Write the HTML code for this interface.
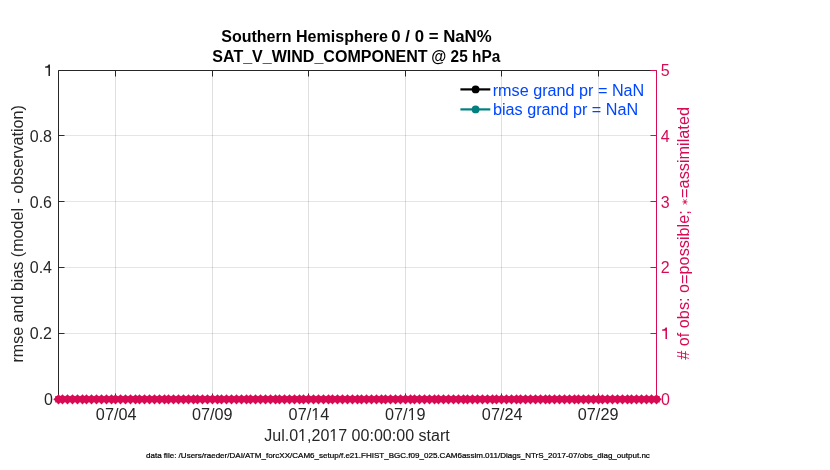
<!DOCTYPE html>
<html><head><meta charset="utf-8"><title>Southern Hemisphere SAT_V_WIND_COMPONENT @ 25 hPa</title>
<style>html,body{margin:0;padding:0;background:#fff;width:830px;height:470px;overflow:hidden;font-family:"Liberation Sans",sans-serif;}</style>
</head><body>
<svg width="830" height="470" viewBox="0 0 830 470" style="display:block;will-change:transform">
<rect x="0" y="0" width="830" height="470" fill="#fff"/>
<path d="M58.5 399.5V70.5H656.5" fill="none" stroke="#262626"/>
<line x1="58.5" y1="399.5" x2="656.5" y2="399.5" stroke="#262626"/>
<line x1="656.5" y1="70.5" x2="656.5" y2="399.5" stroke="#D70A53"/>
<line x1="115.5" y1="70.5" x2="115.5" y2="76.5" stroke="#262626"/>
<line x1="115.5" y1="399.5" x2="115.5" y2="393.5" stroke="#262626"/>
<line x1="212.5" y1="70.5" x2="212.5" y2="76.5" stroke="#262626"/>
<line x1="212.5" y1="399.5" x2="212.5" y2="393.5" stroke="#262626"/>
<line x1="308.5" y1="70.5" x2="308.5" y2="76.5" stroke="#262626"/>
<line x1="308.5" y1="399.5" x2="308.5" y2="393.5" stroke="#262626"/>
<line x1="405.5" y1="70.5" x2="405.5" y2="76.5" stroke="#262626"/>
<line x1="405.5" y1="399.5" x2="405.5" y2="393.5" stroke="#262626"/>
<line x1="501.5" y1="70.5" x2="501.5" y2="76.5" stroke="#262626"/>
<line x1="501.5" y1="399.5" x2="501.5" y2="393.5" stroke="#262626"/>
<line x1="598.5" y1="70.5" x2="598.5" y2="76.5" stroke="#262626"/>
<line x1="598.5" y1="399.5" x2="598.5" y2="393.5" stroke="#262626"/>
<line x1="58.5" y1="399.5" x2="64.5" y2="399.5" stroke="#262626"/>
<line x1="656.5" y1="399.5" x2="650.5" y2="399.5" stroke="#D70A53"/>
<line x1="58.5" y1="333.5" x2="64.5" y2="333.5" stroke="#262626"/>
<line x1="656.5" y1="333.5" x2="650.5" y2="333.5" stroke="#D70A53"/>
<line x1="58.5" y1="267.5" x2="64.5" y2="267.5" stroke="#262626"/>
<line x1="656.5" y1="267.5" x2="650.5" y2="267.5" stroke="#D70A53"/>
<line x1="58.5" y1="201.5" x2="64.5" y2="201.5" stroke="#262626"/>
<line x1="656.5" y1="201.5" x2="650.5" y2="201.5" stroke="#D70A53"/>
<line x1="58.5" y1="135.5" x2="64.5" y2="135.5" stroke="#262626"/>
<line x1="656.5" y1="135.5" x2="650.5" y2="135.5" stroke="#D70A53"/>
<line x1="58.5" y1="70.5" x2="64.5" y2="70.5" stroke="#262626"/>
<line x1="656.5" y1="70.5" x2="650.5" y2="70.5" stroke="#D70A53"/>
<line x1="115.5" y1="71.0" x2="115.5" y2="399.0" stroke="#262626" stroke-opacity="0.15"/>
<line x1="212.5" y1="71.0" x2="212.5" y2="399.0" stroke="#262626" stroke-opacity="0.15"/>
<line x1="308.5" y1="71.0" x2="308.5" y2="399.0" stroke="#262626" stroke-opacity="0.15"/>
<line x1="405.5" y1="71.0" x2="405.5" y2="399.0" stroke="#262626" stroke-opacity="0.15"/>
<line x1="501.5" y1="71.0" x2="501.5" y2="399.0" stroke="#262626" stroke-opacity="0.15"/>
<line x1="598.5" y1="71.0" x2="598.5" y2="399.0" stroke="#262626" stroke-opacity="0.15"/>
<line x1="59.0" y1="333.5" x2="656.0" y2="333.5" stroke="#D70A53" stroke-opacity="0.15"/>
<line x1="59.0" y1="267.5" x2="656.0" y2="267.5" stroke="#D70A53" stroke-opacity="0.15"/>
<line x1="59.0" y1="201.5" x2="656.0" y2="201.5" stroke="#D70A53" stroke-opacity="0.15"/>
<line x1="59.0" y1="135.5" x2="656.0" y2="135.5" stroke="#D70A53" stroke-opacity="0.15"/>
<path d="M54.75 399.35a3.75 3.75 0 1 0 7.5 0a3.75 3.75 0 1 0 -7.5 0ZM60.70 396.55L58.50 394.15L56.30 396.55ZM56.30 402.15L58.50 404.55L60.70 402.15ZM61.30 401.55L63.70 399.35L61.30 397.15ZM55.70 397.15L53.30 399.35L55.70 401.55ZM61.72 398.61L61.75 396.10L59.24 396.13ZM57.76 396.13L55.25 396.10L55.28 398.61ZM55.28 400.09L55.25 402.60L57.76 402.57ZM59.24 402.57L61.75 402.60L61.72 400.09ZM58.75 399.35a3.75 3.75 0 1 0 7.5 0a3.75 3.75 0 1 0 -7.5 0ZM64.70 396.55L62.50 394.15L60.30 396.55ZM60.30 402.15L62.50 404.55L64.70 402.15ZM63.75 399.35a3.75 3.75 0 1 0 7.5 0a3.75 3.75 0 1 0 -7.5 0ZM69.70 396.55L67.50 394.15L65.30 396.55ZM65.30 402.15L67.50 404.55L69.70 402.15ZM68.75 399.35a3.75 3.75 0 1 0 7.5 0a3.75 3.75 0 1 0 -7.5 0ZM74.70 396.55L72.50 394.15L70.30 396.55ZM70.30 402.15L72.50 404.55L74.70 402.15ZM73.75 399.35a3.75 3.75 0 1 0 7.5 0a3.75 3.75 0 1 0 -7.5 0ZM79.70 396.55L77.50 394.15L75.30 396.55ZM75.30 402.15L77.50 404.55L79.70 402.15ZM78.75 399.35a3.75 3.75 0 1 0 7.5 0a3.75 3.75 0 1 0 -7.5 0ZM84.70 396.55L82.50 394.15L80.30 396.55ZM80.30 402.15L82.50 404.55L84.70 402.15ZM82.75 399.35a3.75 3.75 0 1 0 7.5 0a3.75 3.75 0 1 0 -7.5 0ZM88.70 396.55L86.50 394.15L84.30 396.55ZM84.30 402.15L86.50 404.55L88.70 402.15ZM87.75 399.35a3.75 3.75 0 1 0 7.5 0a3.75 3.75 0 1 0 -7.5 0ZM93.70 396.55L91.50 394.15L89.30 396.55ZM89.30 402.15L91.50 404.55L93.70 402.15ZM92.75 399.35a3.75 3.75 0 1 0 7.5 0a3.75 3.75 0 1 0 -7.5 0ZM98.70 396.55L96.50 394.15L94.30 396.55ZM94.30 402.15L96.50 404.55L98.70 402.15ZM97.75 399.35a3.75 3.75 0 1 0 7.5 0a3.75 3.75 0 1 0 -7.5 0ZM103.70 396.55L101.50 394.15L99.30 396.55ZM99.30 402.15L101.50 404.55L103.70 402.15ZM102.75 399.35a3.75 3.75 0 1 0 7.5 0a3.75 3.75 0 1 0 -7.5 0ZM108.70 396.55L106.50 394.15L104.30 396.55ZM104.30 402.15L106.50 404.55L108.70 402.15ZM107.75 399.35a3.75 3.75 0 1 0 7.5 0a3.75 3.75 0 1 0 -7.5 0ZM113.70 396.55L111.50 394.15L109.30 396.55ZM109.30 402.15L111.50 404.55L113.70 402.15ZM111.75 399.35a3.75 3.75 0 1 0 7.5 0a3.75 3.75 0 1 0 -7.5 0ZM117.70 396.55L115.50 394.15L113.30 396.55ZM113.30 402.15L115.50 404.55L117.70 402.15ZM116.75 399.35a3.75 3.75 0 1 0 7.5 0a3.75 3.75 0 1 0 -7.5 0ZM122.70 396.55L120.50 394.15L118.30 396.55ZM118.30 402.15L120.50 404.55L122.70 402.15ZM121.75 399.35a3.75 3.75 0 1 0 7.5 0a3.75 3.75 0 1 0 -7.5 0ZM127.70 396.55L125.50 394.15L123.30 396.55ZM123.30 402.15L125.50 404.55L127.70 402.15ZM126.75 399.35a3.75 3.75 0 1 0 7.5 0a3.75 3.75 0 1 0 -7.5 0ZM132.70 396.55L130.50 394.15L128.30 396.55ZM128.30 402.15L130.50 404.55L132.70 402.15ZM131.75 399.35a3.75 3.75 0 1 0 7.5 0a3.75 3.75 0 1 0 -7.5 0ZM137.70 396.55L135.50 394.15L133.30 396.55ZM133.30 402.15L135.50 404.55L137.70 402.15ZM135.75 399.35a3.75 3.75 0 1 0 7.5 0a3.75 3.75 0 1 0 -7.5 0ZM141.70 396.55L139.50 394.15L137.30 396.55ZM137.30 402.15L139.50 404.55L141.70 402.15ZM140.75 399.35a3.75 3.75 0 1 0 7.5 0a3.75 3.75 0 1 0 -7.5 0ZM146.70 396.55L144.50 394.15L142.30 396.55ZM142.30 402.15L144.50 404.55L146.70 402.15ZM145.75 399.35a3.75 3.75 0 1 0 7.5 0a3.75 3.75 0 1 0 -7.5 0ZM151.70 396.55L149.50 394.15L147.30 396.55ZM147.30 402.15L149.50 404.55L151.70 402.15ZM150.75 399.35a3.75 3.75 0 1 0 7.5 0a3.75 3.75 0 1 0 -7.5 0ZM156.70 396.55L154.50 394.15L152.30 396.55ZM152.30 402.15L154.50 404.55L156.70 402.15ZM155.75 399.35a3.75 3.75 0 1 0 7.5 0a3.75 3.75 0 1 0 -7.5 0ZM161.70 396.55L159.50 394.15L157.30 396.55ZM157.30 402.15L159.50 404.55L161.70 402.15ZM160.75 399.35a3.75 3.75 0 1 0 7.5 0a3.75 3.75 0 1 0 -7.5 0ZM166.70 396.55L164.50 394.15L162.30 396.55ZM162.30 402.15L164.50 404.55L166.70 402.15ZM164.75 399.35a3.75 3.75 0 1 0 7.5 0a3.75 3.75 0 1 0 -7.5 0ZM170.70 396.55L168.50 394.15L166.30 396.55ZM166.30 402.15L168.50 404.55L170.70 402.15ZM169.75 399.35a3.75 3.75 0 1 0 7.5 0a3.75 3.75 0 1 0 -7.5 0ZM175.70 396.55L173.50 394.15L171.30 396.55ZM171.30 402.15L173.50 404.55L175.70 402.15ZM174.75 399.35a3.75 3.75 0 1 0 7.5 0a3.75 3.75 0 1 0 -7.5 0ZM180.70 396.55L178.50 394.15L176.30 396.55ZM176.30 402.15L178.50 404.55L180.70 402.15ZM179.75 399.35a3.75 3.75 0 1 0 7.5 0a3.75 3.75 0 1 0 -7.5 0ZM185.70 396.55L183.50 394.15L181.30 396.55ZM181.30 402.15L183.50 404.55L185.70 402.15ZM184.75 399.35a3.75 3.75 0 1 0 7.5 0a3.75 3.75 0 1 0 -7.5 0ZM190.70 396.55L188.50 394.15L186.30 396.55ZM186.30 402.15L188.50 404.55L190.70 402.15ZM189.75 399.35a3.75 3.75 0 1 0 7.5 0a3.75 3.75 0 1 0 -7.5 0ZM195.70 396.55L193.50 394.15L191.30 396.55ZM191.30 402.15L193.50 404.55L195.70 402.15ZM193.75 399.35a3.75 3.75 0 1 0 7.5 0a3.75 3.75 0 1 0 -7.5 0ZM199.70 396.55L197.50 394.15L195.30 396.55ZM195.30 402.15L197.50 404.55L199.70 402.15ZM198.75 399.35a3.75 3.75 0 1 0 7.5 0a3.75 3.75 0 1 0 -7.5 0ZM204.70 396.55L202.50 394.15L200.30 396.55ZM200.30 402.15L202.50 404.55L204.70 402.15ZM203.75 399.35a3.75 3.75 0 1 0 7.5 0a3.75 3.75 0 1 0 -7.5 0ZM209.70 396.55L207.50 394.15L205.30 396.55ZM205.30 402.15L207.50 404.55L209.70 402.15ZM208.75 399.35a3.75 3.75 0 1 0 7.5 0a3.75 3.75 0 1 0 -7.5 0ZM214.70 396.55L212.50 394.15L210.30 396.55ZM210.30 402.15L212.50 404.55L214.70 402.15ZM213.75 399.35a3.75 3.75 0 1 0 7.5 0a3.75 3.75 0 1 0 -7.5 0ZM219.70 396.55L217.50 394.15L215.30 396.55ZM215.30 402.15L217.50 404.55L219.70 402.15ZM217.75 399.35a3.75 3.75 0 1 0 7.5 0a3.75 3.75 0 1 0 -7.5 0ZM223.70 396.55L221.50 394.15L219.30 396.55ZM219.30 402.15L221.50 404.55L223.70 402.15ZM222.75 399.35a3.75 3.75 0 1 0 7.5 0a3.75 3.75 0 1 0 -7.5 0ZM228.70 396.55L226.50 394.15L224.30 396.55ZM224.30 402.15L226.50 404.55L228.70 402.15ZM227.75 399.35a3.75 3.75 0 1 0 7.5 0a3.75 3.75 0 1 0 -7.5 0ZM233.70 396.55L231.50 394.15L229.30 396.55ZM229.30 402.15L231.50 404.55L233.70 402.15ZM232.75 399.35a3.75 3.75 0 1 0 7.5 0a3.75 3.75 0 1 0 -7.5 0ZM238.70 396.55L236.50 394.15L234.30 396.55ZM234.30 402.15L236.50 404.55L238.70 402.15ZM237.75 399.35a3.75 3.75 0 1 0 7.5 0a3.75 3.75 0 1 0 -7.5 0ZM243.70 396.55L241.50 394.15L239.30 396.55ZM239.30 402.15L241.50 404.55L243.70 402.15ZM242.75 399.35a3.75 3.75 0 1 0 7.5 0a3.75 3.75 0 1 0 -7.5 0ZM248.70 396.55L246.50 394.15L244.30 396.55ZM244.30 402.15L246.50 404.55L248.70 402.15ZM246.75 399.35a3.75 3.75 0 1 0 7.5 0a3.75 3.75 0 1 0 -7.5 0ZM252.70 396.55L250.50 394.15L248.30 396.55ZM248.30 402.15L250.50 404.55L252.70 402.15ZM251.75 399.35a3.75 3.75 0 1 0 7.5 0a3.75 3.75 0 1 0 -7.5 0ZM257.70 396.55L255.50 394.15L253.30 396.55ZM253.30 402.15L255.50 404.55L257.70 402.15ZM256.75 399.35a3.75 3.75 0 1 0 7.5 0a3.75 3.75 0 1 0 -7.5 0ZM262.70 396.55L260.50 394.15L258.30 396.55ZM258.30 402.15L260.50 404.55L262.70 402.15ZM261.75 399.35a3.75 3.75 0 1 0 7.5 0a3.75 3.75 0 1 0 -7.5 0ZM267.70 396.55L265.50 394.15L263.30 396.55ZM263.30 402.15L265.50 404.55L267.70 402.15ZM266.75 399.35a3.75 3.75 0 1 0 7.5 0a3.75 3.75 0 1 0 -7.5 0ZM272.70 396.55L270.50 394.15L268.30 396.55ZM268.30 402.15L270.50 404.55L272.70 402.15ZM271.75 399.35a3.75 3.75 0 1 0 7.5 0a3.75 3.75 0 1 0 -7.5 0ZM277.70 396.55L275.50 394.15L273.30 396.55ZM273.30 402.15L275.50 404.55L277.70 402.15ZM275.75 399.35a3.75 3.75 0 1 0 7.5 0a3.75 3.75 0 1 0 -7.5 0ZM281.70 396.55L279.50 394.15L277.30 396.55ZM277.30 402.15L279.50 404.55L281.70 402.15ZM280.75 399.35a3.75 3.75 0 1 0 7.5 0a3.75 3.75 0 1 0 -7.5 0ZM286.70 396.55L284.50 394.15L282.30 396.55ZM282.30 402.15L284.50 404.55L286.70 402.15ZM285.75 399.35a3.75 3.75 0 1 0 7.5 0a3.75 3.75 0 1 0 -7.5 0ZM291.70 396.55L289.50 394.15L287.30 396.55ZM287.30 402.15L289.50 404.55L291.70 402.15ZM290.75 399.35a3.75 3.75 0 1 0 7.5 0a3.75 3.75 0 1 0 -7.5 0ZM296.70 396.55L294.50 394.15L292.30 396.55ZM292.30 402.15L294.50 404.55L296.70 402.15ZM295.75 399.35a3.75 3.75 0 1 0 7.5 0a3.75 3.75 0 1 0 -7.5 0ZM301.70 396.55L299.50 394.15L297.30 396.55ZM297.30 402.15L299.50 404.55L301.70 402.15ZM299.75 399.35a3.75 3.75 0 1 0 7.5 0a3.75 3.75 0 1 0 -7.5 0ZM305.70 396.55L303.50 394.15L301.30 396.55ZM301.30 402.15L303.50 404.55L305.70 402.15ZM304.75 399.35a3.75 3.75 0 1 0 7.5 0a3.75 3.75 0 1 0 -7.5 0ZM310.70 396.55L308.50 394.15L306.30 396.55ZM306.30 402.15L308.50 404.55L310.70 402.15ZM309.75 399.35a3.75 3.75 0 1 0 7.5 0a3.75 3.75 0 1 0 -7.5 0ZM315.70 396.55L313.50 394.15L311.30 396.55ZM311.30 402.15L313.50 404.55L315.70 402.15ZM314.75 399.35a3.75 3.75 0 1 0 7.5 0a3.75 3.75 0 1 0 -7.5 0ZM320.70 396.55L318.50 394.15L316.30 396.55ZM316.30 402.15L318.50 404.55L320.70 402.15ZM319.75 399.35a3.75 3.75 0 1 0 7.5 0a3.75 3.75 0 1 0 -7.5 0ZM325.70 396.55L323.50 394.15L321.30 396.55ZM321.30 402.15L323.50 404.55L325.70 402.15ZM324.75 399.35a3.75 3.75 0 1 0 7.5 0a3.75 3.75 0 1 0 -7.5 0ZM330.70 396.55L328.50 394.15L326.30 396.55ZM326.30 402.15L328.50 404.55L330.70 402.15ZM328.75 399.35a3.75 3.75 0 1 0 7.5 0a3.75 3.75 0 1 0 -7.5 0ZM334.70 396.55L332.50 394.15L330.30 396.55ZM330.30 402.15L332.50 404.55L334.70 402.15ZM333.75 399.35a3.75 3.75 0 1 0 7.5 0a3.75 3.75 0 1 0 -7.5 0ZM339.70 396.55L337.50 394.15L335.30 396.55ZM335.30 402.15L337.50 404.55L339.70 402.15ZM338.75 399.35a3.75 3.75 0 1 0 7.5 0a3.75 3.75 0 1 0 -7.5 0ZM344.70 396.55L342.50 394.15L340.30 396.55ZM340.30 402.15L342.50 404.55L344.70 402.15ZM343.75 399.35a3.75 3.75 0 1 0 7.5 0a3.75 3.75 0 1 0 -7.5 0ZM349.70 396.55L347.50 394.15L345.30 396.55ZM345.30 402.15L347.50 404.55L349.70 402.15ZM348.75 399.35a3.75 3.75 0 1 0 7.5 0a3.75 3.75 0 1 0 -7.5 0ZM354.70 396.55L352.50 394.15L350.30 396.55ZM350.30 402.15L352.50 404.55L354.70 402.15ZM353.75 399.35a3.75 3.75 0 1 0 7.5 0a3.75 3.75 0 1 0 -7.5 0ZM359.70 396.55L357.50 394.15L355.30 396.55ZM355.30 402.15L357.50 404.55L359.70 402.15ZM357.75 399.35a3.75 3.75 0 1 0 7.5 0a3.75 3.75 0 1 0 -7.5 0ZM363.70 396.55L361.50 394.15L359.30 396.55ZM359.30 402.15L361.50 404.55L363.70 402.15ZM362.75 399.35a3.75 3.75 0 1 0 7.5 0a3.75 3.75 0 1 0 -7.5 0ZM368.70 396.55L366.50 394.15L364.30 396.55ZM364.30 402.15L366.50 404.55L368.70 402.15ZM367.75 399.35a3.75 3.75 0 1 0 7.5 0a3.75 3.75 0 1 0 -7.5 0ZM373.70 396.55L371.50 394.15L369.30 396.55ZM369.30 402.15L371.50 404.55L373.70 402.15ZM372.75 399.35a3.75 3.75 0 1 0 7.5 0a3.75 3.75 0 1 0 -7.5 0ZM378.70 396.55L376.50 394.15L374.30 396.55ZM374.30 402.15L376.50 404.55L378.70 402.15ZM377.75 399.35a3.75 3.75 0 1 0 7.5 0a3.75 3.75 0 1 0 -7.5 0ZM383.70 396.55L381.50 394.15L379.30 396.55ZM379.30 402.15L381.50 404.55L383.70 402.15ZM381.75 399.35a3.75 3.75 0 1 0 7.5 0a3.75 3.75 0 1 0 -7.5 0ZM387.70 396.55L385.50 394.15L383.30 396.55ZM383.30 402.15L385.50 404.55L387.70 402.15ZM386.75 399.35a3.75 3.75 0 1 0 7.5 0a3.75 3.75 0 1 0 -7.5 0ZM392.70 396.55L390.50 394.15L388.30 396.55ZM388.30 402.15L390.50 404.55L392.70 402.15ZM391.75 399.35a3.75 3.75 0 1 0 7.5 0a3.75 3.75 0 1 0 -7.5 0ZM397.70 396.55L395.50 394.15L393.30 396.55ZM393.30 402.15L395.50 404.55L397.70 402.15ZM396.75 399.35a3.75 3.75 0 1 0 7.5 0a3.75 3.75 0 1 0 -7.5 0ZM402.70 396.55L400.50 394.15L398.30 396.55ZM398.30 402.15L400.50 404.55L402.70 402.15ZM401.75 399.35a3.75 3.75 0 1 0 7.5 0a3.75 3.75 0 1 0 -7.5 0ZM407.70 396.55L405.50 394.15L403.30 396.55ZM403.30 402.15L405.50 404.55L407.70 402.15ZM406.75 399.35a3.75 3.75 0 1 0 7.5 0a3.75 3.75 0 1 0 -7.5 0ZM412.70 396.55L410.50 394.15L408.30 396.55ZM408.30 402.15L410.50 404.55L412.70 402.15ZM410.75 399.35a3.75 3.75 0 1 0 7.5 0a3.75 3.75 0 1 0 -7.5 0ZM416.70 396.55L414.50 394.15L412.30 396.55ZM412.30 402.15L414.50 404.55L416.70 402.15ZM415.75 399.35a3.75 3.75 0 1 0 7.5 0a3.75 3.75 0 1 0 -7.5 0ZM421.70 396.55L419.50 394.15L417.30 396.55ZM417.30 402.15L419.50 404.55L421.70 402.15ZM420.75 399.35a3.75 3.75 0 1 0 7.5 0a3.75 3.75 0 1 0 -7.5 0ZM426.70 396.55L424.50 394.15L422.30 396.55ZM422.30 402.15L424.50 404.55L426.70 402.15ZM425.75 399.35a3.75 3.75 0 1 0 7.5 0a3.75 3.75 0 1 0 -7.5 0ZM431.70 396.55L429.50 394.15L427.30 396.55ZM427.30 402.15L429.50 404.55L431.70 402.15ZM430.75 399.35a3.75 3.75 0 1 0 7.5 0a3.75 3.75 0 1 0 -7.5 0ZM436.70 396.55L434.50 394.15L432.30 396.55ZM432.30 402.15L434.50 404.55L436.70 402.15ZM434.75 399.35a3.75 3.75 0 1 0 7.5 0a3.75 3.75 0 1 0 -7.5 0ZM440.70 396.55L438.50 394.15L436.30 396.55ZM436.30 402.15L438.50 404.55L440.70 402.15ZM439.75 399.35a3.75 3.75 0 1 0 7.5 0a3.75 3.75 0 1 0 -7.5 0ZM445.70 396.55L443.50 394.15L441.30 396.55ZM441.30 402.15L443.50 404.55L445.70 402.15ZM444.75 399.35a3.75 3.75 0 1 0 7.5 0a3.75 3.75 0 1 0 -7.5 0ZM450.70 396.55L448.50 394.15L446.30 396.55ZM446.30 402.15L448.50 404.55L450.70 402.15ZM449.75 399.35a3.75 3.75 0 1 0 7.5 0a3.75 3.75 0 1 0 -7.5 0ZM455.70 396.55L453.50 394.15L451.30 396.55ZM451.30 402.15L453.50 404.55L455.70 402.15ZM454.75 399.35a3.75 3.75 0 1 0 7.5 0a3.75 3.75 0 1 0 -7.5 0ZM460.70 396.55L458.50 394.15L456.30 396.55ZM456.30 402.15L458.50 404.55L460.70 402.15ZM459.75 399.35a3.75 3.75 0 1 0 7.5 0a3.75 3.75 0 1 0 -7.5 0ZM465.70 396.55L463.50 394.15L461.30 396.55ZM461.30 402.15L463.50 404.55L465.70 402.15ZM463.75 399.35a3.75 3.75 0 1 0 7.5 0a3.75 3.75 0 1 0 -7.5 0ZM469.70 396.55L467.50 394.15L465.30 396.55ZM465.30 402.15L467.50 404.55L469.70 402.15ZM468.75 399.35a3.75 3.75 0 1 0 7.5 0a3.75 3.75 0 1 0 -7.5 0ZM474.70 396.55L472.50 394.15L470.30 396.55ZM470.30 402.15L472.50 404.55L474.70 402.15ZM473.75 399.35a3.75 3.75 0 1 0 7.5 0a3.75 3.75 0 1 0 -7.5 0ZM479.70 396.55L477.50 394.15L475.30 396.55ZM475.30 402.15L477.50 404.55L479.70 402.15ZM478.75 399.35a3.75 3.75 0 1 0 7.5 0a3.75 3.75 0 1 0 -7.5 0ZM484.70 396.55L482.50 394.15L480.30 396.55ZM480.30 402.15L482.50 404.55L484.70 402.15ZM483.75 399.35a3.75 3.75 0 1 0 7.5 0a3.75 3.75 0 1 0 -7.5 0ZM489.70 396.55L487.50 394.15L485.30 396.55ZM485.30 402.15L487.50 404.55L489.70 402.15ZM488.75 399.35a3.75 3.75 0 1 0 7.5 0a3.75 3.75 0 1 0 -7.5 0ZM494.70 396.55L492.50 394.15L490.30 396.55ZM490.30 402.15L492.50 404.55L494.70 402.15ZM492.75 399.35a3.75 3.75 0 1 0 7.5 0a3.75 3.75 0 1 0 -7.5 0ZM498.70 396.55L496.50 394.15L494.30 396.55ZM494.30 402.15L496.50 404.55L498.70 402.15ZM497.75 399.35a3.75 3.75 0 1 0 7.5 0a3.75 3.75 0 1 0 -7.5 0ZM503.70 396.55L501.50 394.15L499.30 396.55ZM499.30 402.15L501.50 404.55L503.70 402.15ZM502.75 399.35a3.75 3.75 0 1 0 7.5 0a3.75 3.75 0 1 0 -7.5 0ZM508.70 396.55L506.50 394.15L504.30 396.55ZM504.30 402.15L506.50 404.55L508.70 402.15ZM507.75 399.35a3.75 3.75 0 1 0 7.5 0a3.75 3.75 0 1 0 -7.5 0ZM513.70 396.55L511.50 394.15L509.30 396.55ZM509.30 402.15L511.50 404.55L513.70 402.15ZM512.75 399.35a3.75 3.75 0 1 0 7.5 0a3.75 3.75 0 1 0 -7.5 0ZM518.70 396.55L516.50 394.15L514.30 396.55ZM514.30 402.15L516.50 404.55L518.70 402.15ZM516.75 399.35a3.75 3.75 0 1 0 7.5 0a3.75 3.75 0 1 0 -7.5 0ZM522.70 396.55L520.50 394.15L518.30 396.55ZM518.30 402.15L520.50 404.55L522.70 402.15ZM521.75 399.35a3.75 3.75 0 1 0 7.5 0a3.75 3.75 0 1 0 -7.5 0ZM527.70 396.55L525.50 394.15L523.30 396.55ZM523.30 402.15L525.50 404.55L527.70 402.15ZM526.75 399.35a3.75 3.75 0 1 0 7.5 0a3.75 3.75 0 1 0 -7.5 0ZM532.70 396.55L530.50 394.15L528.30 396.55ZM528.30 402.15L530.50 404.55L532.70 402.15ZM531.75 399.35a3.75 3.75 0 1 0 7.5 0a3.75 3.75 0 1 0 -7.5 0ZM537.70 396.55L535.50 394.15L533.30 396.55ZM533.30 402.15L535.50 404.55L537.70 402.15ZM536.75 399.35a3.75 3.75 0 1 0 7.5 0a3.75 3.75 0 1 0 -7.5 0ZM542.70 396.55L540.50 394.15L538.30 396.55ZM538.30 402.15L540.50 404.55L542.70 402.15ZM541.75 399.35a3.75 3.75 0 1 0 7.5 0a3.75 3.75 0 1 0 -7.5 0ZM547.70 396.55L545.50 394.15L543.30 396.55ZM543.30 402.15L545.50 404.55L547.70 402.15ZM545.75 399.35a3.75 3.75 0 1 0 7.5 0a3.75 3.75 0 1 0 -7.5 0ZM551.70 396.55L549.50 394.15L547.30 396.55ZM547.30 402.15L549.50 404.55L551.70 402.15ZM550.75 399.35a3.75 3.75 0 1 0 7.5 0a3.75 3.75 0 1 0 -7.5 0ZM556.70 396.55L554.50 394.15L552.30 396.55ZM552.30 402.15L554.50 404.55L556.70 402.15ZM555.75 399.35a3.75 3.75 0 1 0 7.5 0a3.75 3.75 0 1 0 -7.5 0ZM561.70 396.55L559.50 394.15L557.30 396.55ZM557.30 402.15L559.50 404.55L561.70 402.15ZM560.75 399.35a3.75 3.75 0 1 0 7.5 0a3.75 3.75 0 1 0 -7.5 0ZM566.70 396.55L564.50 394.15L562.30 396.55ZM562.30 402.15L564.50 404.55L566.70 402.15ZM565.75 399.35a3.75 3.75 0 1 0 7.5 0a3.75 3.75 0 1 0 -7.5 0ZM571.70 396.55L569.50 394.15L567.30 396.55ZM567.30 402.15L569.50 404.55L571.70 402.15ZM570.75 399.35a3.75 3.75 0 1 0 7.5 0a3.75 3.75 0 1 0 -7.5 0ZM576.70 396.55L574.50 394.15L572.30 396.55ZM572.30 402.15L574.50 404.55L576.70 402.15ZM574.75 399.35a3.75 3.75 0 1 0 7.5 0a3.75 3.75 0 1 0 -7.5 0ZM580.70 396.55L578.50 394.15L576.30 396.55ZM576.30 402.15L578.50 404.55L580.70 402.15ZM579.75 399.35a3.75 3.75 0 1 0 7.5 0a3.75 3.75 0 1 0 -7.5 0ZM585.70 396.55L583.50 394.15L581.30 396.55ZM581.30 402.15L583.50 404.55L585.70 402.15ZM584.75 399.35a3.75 3.75 0 1 0 7.5 0a3.75 3.75 0 1 0 -7.5 0ZM590.70 396.55L588.50 394.15L586.30 396.55ZM586.30 402.15L588.50 404.55L590.70 402.15ZM589.75 399.35a3.75 3.75 0 1 0 7.5 0a3.75 3.75 0 1 0 -7.5 0ZM595.70 396.55L593.50 394.15L591.30 396.55ZM591.30 402.15L593.50 404.55L595.70 402.15ZM594.75 399.35a3.75 3.75 0 1 0 7.5 0a3.75 3.75 0 1 0 -7.5 0ZM600.70 396.55L598.50 394.15L596.30 396.55ZM596.30 402.15L598.50 404.55L600.70 402.15ZM598.75 399.35a3.75 3.75 0 1 0 7.5 0a3.75 3.75 0 1 0 -7.5 0ZM604.70 396.55L602.50 394.15L600.30 396.55ZM600.30 402.15L602.50 404.55L604.70 402.15ZM603.75 399.35a3.75 3.75 0 1 0 7.5 0a3.75 3.75 0 1 0 -7.5 0ZM609.70 396.55L607.50 394.15L605.30 396.55ZM605.30 402.15L607.50 404.55L609.70 402.15ZM608.75 399.35a3.75 3.75 0 1 0 7.5 0a3.75 3.75 0 1 0 -7.5 0ZM614.70 396.55L612.50 394.15L610.30 396.55ZM610.30 402.15L612.50 404.55L614.70 402.15ZM613.75 399.35a3.75 3.75 0 1 0 7.5 0a3.75 3.75 0 1 0 -7.5 0ZM619.70 396.55L617.50 394.15L615.30 396.55ZM615.30 402.15L617.50 404.55L619.70 402.15ZM618.75 399.35a3.75 3.75 0 1 0 7.5 0a3.75 3.75 0 1 0 -7.5 0ZM624.70 396.55L622.50 394.15L620.30 396.55ZM620.30 402.15L622.50 404.55L624.70 402.15ZM623.75 399.35a3.75 3.75 0 1 0 7.5 0a3.75 3.75 0 1 0 -7.5 0ZM629.70 396.55L627.50 394.15L625.30 396.55ZM625.30 402.15L627.50 404.55L629.70 402.15ZM627.75 399.35a3.75 3.75 0 1 0 7.5 0a3.75 3.75 0 1 0 -7.5 0ZM633.70 396.55L631.50 394.15L629.30 396.55ZM629.30 402.15L631.50 404.55L633.70 402.15ZM632.75 399.35a3.75 3.75 0 1 0 7.5 0a3.75 3.75 0 1 0 -7.5 0ZM638.70 396.55L636.50 394.15L634.30 396.55ZM634.30 402.15L636.50 404.55L638.70 402.15ZM637.75 399.35a3.75 3.75 0 1 0 7.5 0a3.75 3.75 0 1 0 -7.5 0ZM643.70 396.55L641.50 394.15L639.30 396.55ZM639.30 402.15L641.50 404.55L643.70 402.15ZM642.75 399.35a3.75 3.75 0 1 0 7.5 0a3.75 3.75 0 1 0 -7.5 0ZM648.70 396.55L646.50 394.15L644.30 396.55ZM644.30 402.15L646.50 404.55L648.70 402.15ZM647.75 399.35a3.75 3.75 0 1 0 7.5 0a3.75 3.75 0 1 0 -7.5 0ZM653.70 396.55L651.50 394.15L649.30 396.55ZM649.30 402.15L651.50 404.55L653.70 402.15ZM652.75 399.35a3.75 3.75 0 1 0 7.5 0a3.75 3.75 0 1 0 -7.5 0ZM658.70 396.55L656.50 394.15L654.30 396.55ZM654.30 402.15L656.50 404.55L658.70 402.15ZM659.30 401.55L661.70 399.35L659.30 397.15ZM653.70 397.15L651.30 399.35L653.70 401.55ZM659.72 398.61L659.75 396.10L657.24 396.13ZM655.76 396.13L653.25 396.10L653.28 398.61ZM653.28 400.09L653.25 402.60L655.76 402.57ZM657.24 402.57L659.75 402.60L659.72 400.09Z" fill="#D70A53" fill-rule="nonzero"/>
<text x="221.20" y="41.7" textLength="166.67" lengthAdjust="spacingAndGlyphs" font-family="Liberation Sans, sans-serif" font-size="16" font-weight="bold" fill="#000">Southern Hemisphere</text>
<text x="391.35" y="41.7" textLength="100.29" lengthAdjust="spacingAndGlyphs" font-family="Liberation Sans, sans-serif" font-size="16" font-weight="bold" fill="#000">0 / 0 = NaN%</text>
<text x="212.30" y="61.7" textLength="215.25" lengthAdjust="spacingAndGlyphs" font-family="Liberation Sans, sans-serif" font-size="16" font-weight="bold" fill="#000">SAT_V_WIND_COMPONENT</text>
<text x="431.34" y="61.7" textLength="68.92" lengthAdjust="spacingAndGlyphs" font-family="Liberation Sans, sans-serif" font-size="16" font-weight="bold" fill="#000">@ 25 hPa</text>
<text x="53.0" y="405.2" font-family="Liberation Sans, sans-serif" font-size="16" text-anchor="end" fill="#262626">0</text>
<text x="52.0" y="339.2" font-family="Liberation Sans, sans-serif" font-size="16" text-anchor="end" fill="#262626">0.2</text>
<text x="52.0" y="273.2" font-family="Liberation Sans, sans-serif" font-size="16" text-anchor="end" fill="#262626">0.4</text>
<text x="52.0" y="208.2" font-family="Liberation Sans, sans-serif" font-size="16" text-anchor="end" fill="#262626">0.6</text>
<text x="52.0" y="142.2" font-family="Liberation Sans, sans-serif" font-size="16" text-anchor="end" fill="#262626">0.8</text>
<path transform="translate(50.0,76.10)" d="M0 0V-11.6H-1.45C-1.75 -10.3 -3.0 -9.7 -4.9 -9.65V-8.35H-1.55V0Z" fill="#262626"/>
<text x="661.0" y="405.2" font-family="Liberation Sans, sans-serif" font-size="16" fill="#D70A53">0</text>
<path transform="translate(667.0,339.10)" d="M0 0V-11.6H-1.45C-1.75 -10.3 -3.0 -9.7 -4.9 -9.65V-8.35H-1.55V0Z" fill="#D70A53"/>
<text x="660.7" y="273.2" font-family="Liberation Sans, sans-serif" font-size="16" fill="#D70A53">2</text>
<text x="660.7" y="208.2" font-family="Liberation Sans, sans-serif" font-size="16" fill="#D70A53">3</text>
<text x="660.7" y="142.2" font-family="Liberation Sans, sans-serif" font-size="16" fill="#D70A53">4</text>
<text x="660.7" y="76.2" font-family="Liberation Sans, sans-serif" font-size="16" fill="#D70A53">5</text>
<text class="m1" x="116.16" y="420" textLength="40.6" lengthAdjust="spacingAndGlyphs" font-family="Liberation Sans, sans-serif" font-size="16" text-anchor="middle" fill="#262626">07/04</text>
<text class="m1" x="212.27" y="420" textLength="40.6" lengthAdjust="spacingAndGlyphs" font-family="Liberation Sans, sans-serif" font-size="16" text-anchor="middle" fill="#262626">07/09</text>
<text class="m1" x="308.91" y="420" textLength="40.6" lengthAdjust="spacingAndGlyphs" font-family="Liberation Sans, sans-serif" font-size="16" text-anchor="middle" fill="#262626">07/14</text>
<text class="m1" x="405.23" y="420" textLength="40.6" lengthAdjust="spacingAndGlyphs" font-family="Liberation Sans, sans-serif" font-size="16" text-anchor="middle" fill="#262626">07/19</text>
<text class="m1" x="502.16" y="420" textLength="40.6" lengthAdjust="spacingAndGlyphs" font-family="Liberation Sans, sans-serif" font-size="16" text-anchor="middle" fill="#262626">07/24</text>
<text class="m1" x="598.13" y="420" textLength="40.6" lengthAdjust="spacingAndGlyphs" font-family="Liberation Sans, sans-serif" font-size="16" text-anchor="middle" fill="#262626">07/29</text>
<text class="m1" x="264.20" y="440.8" textLength="185.53" lengthAdjust="spacingAndGlyphs" font-family="Liberation Sans, sans-serif" font-size="16" fill="#262626">Jul.01,2017 00:00:00 start</text>
<text transform="translate(22.9,362.61) rotate(-90)" textLength="257.42" lengthAdjust="spacingAndGlyphs" font-family="Liberation Sans, sans-serif" font-size="16" fill="#262626">rmse and bias (model - observation)</text>
<text transform="translate(688.8,359.80) rotate(-90)" textLength="149.54" lengthAdjust="spacingAndGlyphs" font-family="Liberation Sans, sans-serif" font-size="16" fill="#D70A53"># of obs: o<tspan dy="1.5">=</tspan><tspan dy="-1.5">possible;</tspan></text>
<text transform="translate(688.8,197.92) rotate(-90)" textLength="90.92" lengthAdjust="spacingAndGlyphs" font-family="Liberation Sans, sans-serif" font-size="16" fill="#D70A53"><tspan dy="1.5">=</tspan><tspan dy="-1.5">assimilated</tspan></text>
<path d="M682.5 201.9H687.5M683.55 199.4L686.45 204.4M686.45 199.4L683.55 204.4" stroke="#D70A53" stroke-width="0.9" fill="none"/>
<line x1="460.4" y1="89.4" x2="490.3" y2="89.4" stroke="#000" stroke-width="2.2"/>
<circle cx="475.6" cy="89.4" r="3.9" fill="#000"/>
<line x1="460.4" y1="109.4" x2="490.3" y2="109.4" stroke="#008080" stroke-width="2.2"/>
<circle cx="475.6" cy="109.4" r="3.9" fill="#008080"/>
<text x="492.69" y="95.9" textLength="151.58" lengthAdjust="spacingAndGlyphs" font-family="Liberation Sans, sans-serif" font-size="16" fill="#0046FF">rmse grand pr = NaN</text>
<text x="492.99" y="114.6" textLength="145.17" lengthAdjust="spacingAndGlyphs" font-family="Liberation Sans, sans-serif" font-size="16" fill="#0046FF">bias grand pr = NaN</text>
<text x="146.00" y="457.8" textLength="503.88" lengthAdjust="spacingAndGlyphs" font-family="Liberation Sans, sans-serif" font-size="8" fill="#000" stroke="#000" stroke-width="0.22">data file: /Users/raeder/DAI/ATM_forcXX/CAM6_setup/f.e21.FHIST_BGC.f09_025.CAM6assim.011/Diags_NTrS_2017-07/obs_diag_output.nc</text>
<rect x="311.79" y="418.00" width="3.45" height="2.6" fill="#fff"/>
<rect x="316.67" y="418.00" width="3.32" height="2.6" fill="#fff"/>
<rect x="408.11" y="418.00" width="3.45" height="2.6" fill="#fff"/>
<rect x="412.99" y="418.00" width="3.32" height="2.6" fill="#fff"/>
<rect x="298.71" y="438.80" width="3.41" height="2.6" fill="#fff"/>
<rect x="303.54" y="438.80" width="3.29" height="2.6" fill="#fff"/>
<rect x="329.94" y="438.80" width="3.41" height="2.6" fill="#fff"/>
<rect x="334.77" y="438.80" width="3.29" height="2.6" fill="#fff"/>
</svg>
</body></html>
